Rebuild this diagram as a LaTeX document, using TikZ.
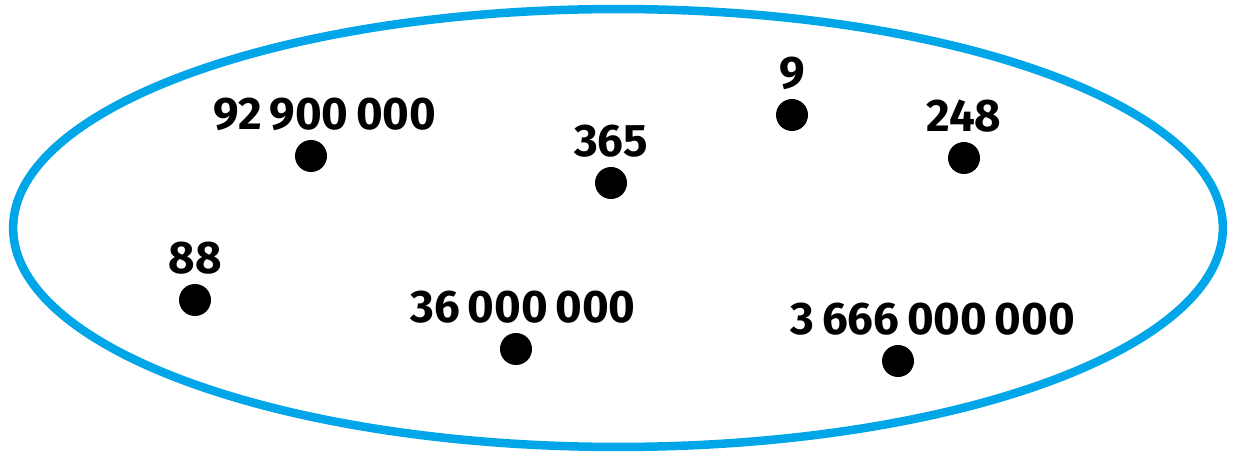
\documentclass[tikz,border=0pt]{standalone}
\usepackage{fontspec}
\setmainfont{Fira Sans}
\usetikzlibrary{positioning}
\definecolor{setblue}{RGB}{0,166,232}
\begin{document}
\begin{tikzpicture}[
    x=0.02cm, y=-0.02cm,
    node distance=0.18cm,
    every node/.style={font=\fontsize{26}{30}\selectfont\bfseries},
    dot/.style={circle, fill=black, inner sep=0pt, minimum size=0.64cm},
    num/.style={inner sep=0pt}
]
\useasboundingbox (0,0) rectangle (1233,455);

% the set
\draw[setblue, line width=0.17cm] (618,228) ellipse [x radius=12.1cm, y radius=4.38cm];

% members
\node[dot] (d92) at (311,156) {};
\node[dot] (d365) at (611,183) {};
\node[dot] (d9) at (792,115) {};
\node[dot] (d248) at (964,158) {};
\node[dot] (d88) at (195,300) {};
\node[dot] (d36) at (516,349) {};
\node[dot] (d3666) at (898,361) {};

% labels
\node[num, above=of d92, xshift=0.28cm] (l92) {92\,900\,000};
\node[num, above=of d365] (l365) {365};
\node[num, above=of d9] (l9) {9};
\node[num, above=of d248] (l248) {248};
\node[num, above=of d88] (l88) {88};
\node[num, above=of d36, xshift=0.14cm] (l36) {36\,000\,000};
\node[num, above=of d3666, xshift=0.7cm] (l3666) {3\,666\,000\,000};

\end{tikzpicture}
\end{document}
